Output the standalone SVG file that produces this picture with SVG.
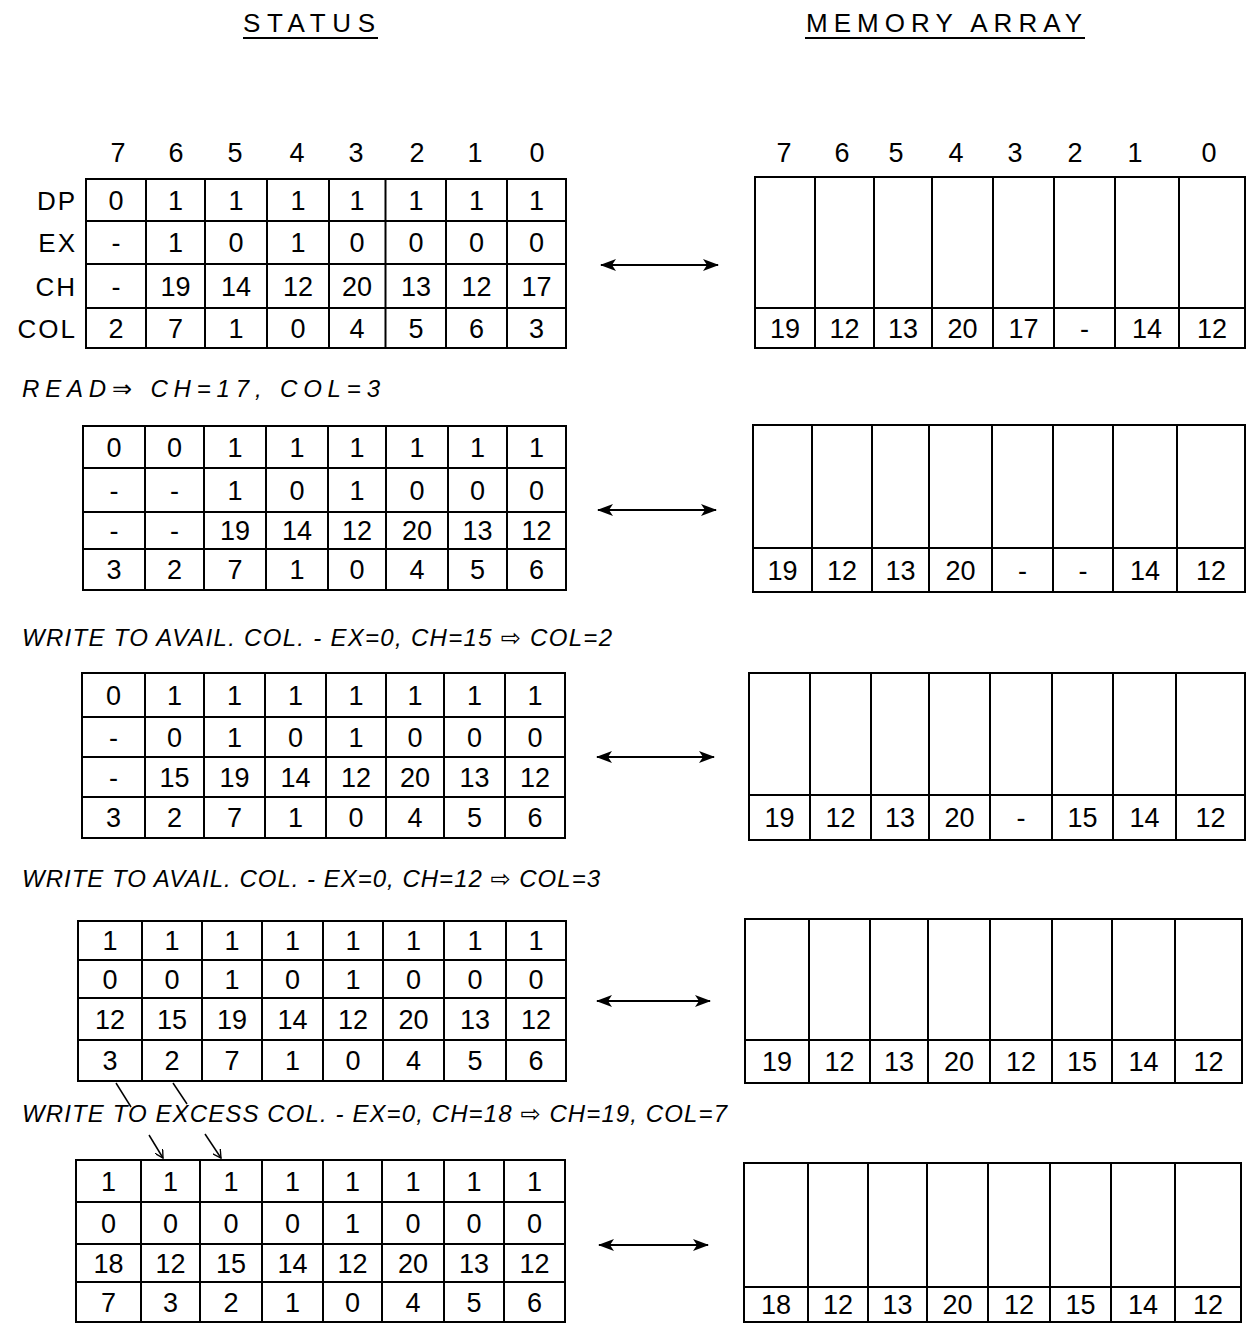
<svg xmlns="http://www.w3.org/2000/svg" width="1249" height="1324" viewBox="0 0 1249 1324">
<style>
  .bg{fill:#fff}
  .g{fill:none;stroke:#000;stroke-width:2}
  .c{font-family:"Liberation Sans","DejaVu Sans",sans-serif;font-size:27px;text-anchor:middle;fill:#000}
  .h{font-family:"Liberation Sans","DejaVu Sans",sans-serif;font-size:27px;text-anchor:middle;fill:#000}
  .lb{font-family:"Liberation Sans","DejaVu Sans",sans-serif;font-size:26px;text-anchor:end;fill:#000;letter-spacing:2px}
  .t{font-family:"Liberation Sans","DejaVu Sans",sans-serif;font-size:26px;fill:#000;letter-spacing:2px}
  .a{font-family:"Liberation Sans","DejaVu Sans",sans-serif;font-size:24px;font-style:italic;fill:#000}
  .cn{fill:none;stroke:#000;stroke-width:2}
  .sm{fill:none;stroke:#000;stroke-width:1.5}
</style>
<defs>
  <marker id="ah" viewBox="0 0 16 12" refX="15" refY="6" markerWidth="16" markerHeight="12" markerUnits="userSpaceOnUse" orient="auto-start-reverse">
    <path d="M0,0 L16,6 L0,12 L4,6 Z" fill="#000"/>
  </marker>
  <marker id="oh" viewBox="0 0 10 10" refX="9" refY="5" markerWidth="9" markerHeight="9" markerUnits="userSpaceOnUse" orient="auto">
    <path d="M0,0 L9,5 L0,10" fill="none" stroke="#000" stroke-width="1.5"/>
  </marker>
</defs>
<rect class="bg" x="0" y="0" width="1249" height="1324"/>

<g id="titles">
  <text class="t" x="243" y="32" textLength="134">STATUS</text>
  <line class="g" x1="243" y1="38" x2="378" y2="38"/>
  <text class="t" x="806" y="32" textLength="278">MEMORY ARRAY</text>
  <line class="g" x1="805" y1="38" x2="1085" y2="38"/>
</g>

<g id="status-headers">
  <text class="h" x="118" y="162">7</text><text class="h" x="176" y="162">6</text><text class="h" x="235" y="162">5</text><text class="h" x="297" y="162">4</text>
  <text class="h" x="356" y="162">3</text><text class="h" x="417" y="162">2</text><text class="h" x="475" y="162">1</text><text class="h" x="537" y="162">0</text>
</g>
<g id="row-labels">
  <text class="lb" x="77" y="210">DP</text>
  <text class="lb" x="77" y="252">EX</text>
  <text class="lb" x="77" y="296">CH</text>
  <text class="lb" x="77" y="338">COL</text>
</g>
<g id="memory-headers">
  <text class="h" x="784" y="162">7</text><text class="h" x="842" y="162">6</text><text class="h" x="896" y="162">5</text><text class="h" x="956" y="162">4</text>
  <text class="h" x="1015" y="162">3</text><text class="h" x="1075" y="162">2</text><text class="h" x="1135" y="162">1</text><text class="h" x="1209" y="162">0</text>
</g>

<g id="status1">
  <rect class="g" x="86" y="179" width="480" height="169"/>
  <path class="g" d="M86,221H566M86,264H566M86,308H566M146,179V348M205,179V348M267,179V348M329,179V348M385.5,179V348M446,179V348M507,179V348"/>
  <text class="c" x="116" y="210">0</text><text class="c" x="175.5" y="210">1</text><text class="c" x="236" y="210">1</text><text class="c" x="298" y="210">1</text><text class="c" x="357" y="210">1</text><text class="c" x="416" y="210">1</text><text class="c" x="476.5" y="210">1</text><text class="c" x="536.5" y="210">1</text>
  <text class="c" x="116" y="252">-</text><text class="c" x="175.5" y="252">1</text><text class="c" x="236" y="252">0</text><text class="c" x="298" y="252">1</text><text class="c" x="357" y="252">0</text><text class="c" x="416" y="252">0</text><text class="c" x="476.5" y="252">0</text><text class="c" x="536.5" y="252">0</text>
  <text class="c" x="116" y="296">-</text><text class="c" x="175.5" y="296">19</text><text class="c" x="236" y="296">14</text><text class="c" x="298" y="296">12</text><text class="c" x="357" y="296">20</text><text class="c" x="416" y="296">13</text><text class="c" x="476.5" y="296">12</text><text class="c" x="536.5" y="296">17</text>
  <text class="c" x="116" y="338">2</text><text class="c" x="175.5" y="338">7</text><text class="c" x="236" y="338">1</text><text class="c" x="298" y="338">0</text><text class="c" x="357" y="338">4</text><text class="c" x="416" y="338">5</text><text class="c" x="476.5" y="338">6</text><text class="c" x="536.5" y="338">3</text>
</g>

<g id="memory1">
  <rect class="g" x="755" y="177" width="490" height="171"/>
  <path class="g" d="M755,308H1245M815,177V348M874,177V348M932,177V348M993,177V348M1054,177V348M1115,177V348M1179,177V348"/>
  <text class="c" x="785" y="338">19</text><text class="c" x="844.5" y="338">12</text><text class="c" x="903" y="338">13</text><text class="c" x="962.5" y="338">20</text><text class="c" x="1023.5" y="338">17</text><text class="c" x="1084.5" y="338">-</text><text class="c" x="1147" y="338">14</text><text class="c" x="1212" y="338">12</text>
</g>

<g id="note1">
  <text class="a" x="22" y="397" textLength="358" lengthAdjust="spacing">READ⇒ CH=17,  COL=3</text>
</g>

<g id="status2">
  <rect class="g" x="83" y="426" width="483" height="164"/>
  <path class="g" d="M83,468H566M83,512H566M83,549H566M145,426V590M204,426V590M266,426V590M328,426V590M386,426V590M448,426V590M507,426V590"/>
  <text class="c" x="114" y="457">0</text><text class="c" x="174.5" y="457">0</text><text class="c" x="235" y="457">1</text><text class="c" x="297" y="457">1</text><text class="c" x="357" y="457">1</text><text class="c" x="417" y="457">1</text><text class="c" x="477.5" y="457">1</text><text class="c" x="536.5" y="457">1</text>
  <text class="c" x="114" y="500">-</text><text class="c" x="174.5" y="500">-</text><text class="c" x="235" y="500">1</text><text class="c" x="297" y="500">0</text><text class="c" x="357" y="500">1</text><text class="c" x="417" y="500">0</text><text class="c" x="477.5" y="500">0</text><text class="c" x="536.5" y="500">0</text>
  <text class="c" x="114" y="540">-</text><text class="c" x="174.5" y="540">-</text><text class="c" x="235" y="540">19</text><text class="c" x="297" y="540">14</text><text class="c" x="357" y="540">12</text><text class="c" x="417" y="540">20</text><text class="c" x="477.5" y="540">13</text><text class="c" x="536.5" y="540">12</text>
  <text class="c" x="114" y="579">3</text><text class="c" x="174.5" y="579">2</text><text class="c" x="235" y="579">7</text><text class="c" x="297" y="579">1</text><text class="c" x="357" y="579">0</text><text class="c" x="417" y="579">4</text><text class="c" x="477.5" y="579">5</text><text class="c" x="536.5" y="579">6</text>
</g>

<g id="memory2">
  <rect class="g" x="753" y="425" width="492" height="167"/>
  <path class="g" d="M753,548H1245M812,425V592M872,425V592M929,425V592M992,425V592M1053,425V592M1113,425V592M1177,425V592"/>
  <text class="c" x="782.5" y="580">19</text><text class="c" x="842" y="580">12</text><text class="c" x="900.5" y="580">13</text><text class="c" x="960.5" y="580">20</text><text class="c" x="1022.5" y="580">-</text><text class="c" x="1083" y="580">-</text><text class="c" x="1145" y="580">14</text><text class="c" x="1211" y="580">12</text>
</g>

<g id="note2">
  <text class="a" x="22" y="646" textLength="590" lengthAdjust="spacing">WRITE TO AVAIL. COL. - EX=0, CH=15 ⇨ COL=2</text>
</g>

<g id="status3">
  <rect class="g" x="82" y="673" width="483" height="165"/>
  <path class="g" d="M82,717H565M82,757H565M82,797H565M145,673V838M204,673V838M265,673V838M326,673V838M386,673V838M444,673V838M505,673V838"/>
  <text class="c" x="113.5" y="705">0</text><text class="c" x="174.5" y="705">1</text><text class="c" x="234.5" y="705">1</text><text class="c" x="295.5" y="705">1</text><text class="c" x="356" y="705">1</text><text class="c" x="415" y="705">1</text><text class="c" x="474.5" y="705">1</text><text class="c" x="535" y="705">1</text>
  <text class="c" x="113.5" y="747">-</text><text class="c" x="174.5" y="747">0</text><text class="c" x="234.5" y="747">1</text><text class="c" x="295.5" y="747">0</text><text class="c" x="356" y="747">1</text><text class="c" x="415" y="747">0</text><text class="c" x="474.5" y="747">0</text><text class="c" x="535" y="747">0</text>
  <text class="c" x="113.5" y="787">-</text><text class="c" x="174.5" y="787">15</text><text class="c" x="234.5" y="787">19</text><text class="c" x="295.5" y="787">14</text><text class="c" x="356" y="787">12</text><text class="c" x="415" y="787">20</text><text class="c" x="474.5" y="787">13</text><text class="c" x="535" y="787">12</text>
  <text class="c" x="113.5" y="827">3</text><text class="c" x="174.5" y="827">2</text><text class="c" x="234.5" y="827">7</text><text class="c" x="295.5" y="827">1</text><text class="c" x="356" y="827">0</text><text class="c" x="415" y="827">4</text><text class="c" x="474.5" y="827">5</text><text class="c" x="535" y="827">6</text>
</g>

<g id="memory3">
  <rect class="g" x="749" y="673" width="496" height="167"/>
  <path class="g" d="M749,795H1245M810,673V840M871,673V840M929,673V840M990,673V840M1052,673V840M1113,673V840M1176,673V840"/>
  <text class="c" x="779.5" y="827">19</text><text class="c" x="840.5" y="827">12</text><text class="c" x="900" y="827">13</text><text class="c" x="959.5" y="827">20</text><text class="c" x="1021" y="827">-</text><text class="c" x="1082.5" y="827">15</text><text class="c" x="1144.5" y="827">14</text><text class="c" x="1210.5" y="827">12</text>
</g>

<g id="note3">
  <text class="a" x="22" y="887" textLength="578" lengthAdjust="spacing">WRITE TO AVAIL. COL. - EX=0, CH=12 ⇨ COL=3</text>
</g>

<g id="status4">
  <rect class="g" x="78" y="921" width="488" height="160"/>
  <path class="g" d="M78,960H566M78,998H566M78,1040H566M142,921V1081M202,921V1081M262,921V1081M323,921V1081M383,921V1081M444,921V1081M506,921V1081"/>
  <text class="c" x="110" y="950">1</text><text class="c" x="172" y="950">1</text><text class="c" x="232" y="950">1</text><text class="c" x="292.5" y="950">1</text><text class="c" x="353" y="950">1</text><text class="c" x="413.5" y="950">1</text><text class="c" x="475" y="950">1</text><text class="c" x="536" y="950">1</text>
  <text class="c" x="110" y="989">0</text><text class="c" x="172" y="989">0</text><text class="c" x="232" y="989">1</text><text class="c" x="292.5" y="989">0</text><text class="c" x="353" y="989">1</text><text class="c" x="413.5" y="989">0</text><text class="c" x="475" y="989">0</text><text class="c" x="536" y="989">0</text>
  <text class="c" x="110" y="1029">12</text><text class="c" x="172" y="1029">15</text><text class="c" x="232" y="1029">19</text><text class="c" x="292.5" y="1029">14</text><text class="c" x="353" y="1029">12</text><text class="c" x="413.5" y="1029">20</text><text class="c" x="475" y="1029">13</text><text class="c" x="536" y="1029">12</text>
  <text class="c" x="110" y="1070">3</text><text class="c" x="172" y="1070">2</text><text class="c" x="232" y="1070">7</text><text class="c" x="292.5" y="1070">1</text><text class="c" x="353" y="1070">0</text><text class="c" x="413.5" y="1070">4</text><text class="c" x="475" y="1070">5</text><text class="c" x="536" y="1070">6</text>
</g>

<g id="memory4">
  <rect class="g" x="745" y="919" width="497" height="164"/>
  <path class="g" d="M745,1040H1242M809,919V1083M870,919V1083M928,919V1083M990,919V1083M1052,919V1083M1112,919V1083M1175,919V1083"/>
  <text class="c" x="777" y="1071">19</text><text class="c" x="839.5" y="1071">12</text><text class="c" x="899" y="1071">13</text><text class="c" x="959" y="1071">20</text><text class="c" x="1021" y="1071">12</text><text class="c" x="1082" y="1071">15</text><text class="c" x="1143.5" y="1071">14</text><text class="c" x="1208.5" y="1071">12</text>
</g>

<g id="note4">
  <text class="a" x="22" y="1122" textLength="705" lengthAdjust="spacing">WRITE TO EXCESS COL. - EX=0, CH=18 ⇨ CH=19, COL=7</text>
</g>

<g id="status5">
  <rect class="g" x="76" y="1160" width="489" height="162"/>
  <path class="g" d="M76,1202H565M76,1244H565M76,1282H565M141,1160V1322M200,1160V1322M262,1160V1322M323,1160V1322M382,1160V1322M444,1160V1322M504,1160V1322"/>
  <text class="c" x="108.5" y="1191">1</text><text class="c" x="170.5" y="1191">1</text><text class="c" x="231" y="1191">1</text><text class="c" x="292.5" y="1191">1</text><text class="c" x="352.5" y="1191">1</text><text class="c" x="413" y="1191">1</text><text class="c" x="474" y="1191">1</text><text class="c" x="534.5" y="1191">1</text>
  <text class="c" x="108.5" y="1233">0</text><text class="c" x="170.5" y="1233">0</text><text class="c" x="231" y="1233">0</text><text class="c" x="292.5" y="1233">0</text><text class="c" x="352.5" y="1233">1</text><text class="c" x="413" y="1233">0</text><text class="c" x="474" y="1233">0</text><text class="c" x="534.5" y="1233">0</text>
  <text class="c" x="108.5" y="1273">18</text><text class="c" x="170.5" y="1273">12</text><text class="c" x="231" y="1273">15</text><text class="c" x="292.5" y="1273">14</text><text class="c" x="352.5" y="1273">12</text><text class="c" x="413" y="1273">20</text><text class="c" x="474" y="1273">13</text><text class="c" x="534.5" y="1273">12</text>
  <text class="c" x="108.5" y="1312">7</text><text class="c" x="170.5" y="1312">3</text><text class="c" x="231" y="1312">2</text><text class="c" x="292.5" y="1312">1</text><text class="c" x="352.5" y="1312">0</text><text class="c" x="413" y="1312">4</text><text class="c" x="474" y="1312">5</text><text class="c" x="534.5" y="1312">6</text>
</g>

<g id="memory5">
  <rect class="g" x="744" y="1163" width="497" height="159"/>
  <path class="g" d="M744,1287H1241M808,1163V1322M868,1163V1322M927,1163V1322M988,1163V1322M1050,1163V1322M1111,1163V1322M1175,1163V1322"/>
  <text class="c" x="776" y="1314">18</text><text class="c" x="838" y="1314">12</text><text class="c" x="897.5" y="1314">13</text><text class="c" x="957.5" y="1314">20</text><text class="c" x="1019" y="1314">12</text><text class="c" x="1080.5" y="1314">15</text><text class="c" x="1143" y="1314">14</text><text class="c" x="1208" y="1314">12</text>
</g>

<g id="connectors">
  <line class="cn" x1="601" y1="265" x2="718" y2="265" marker-start="url(#ah)" marker-end="url(#ah)"/>
  <line class="cn" x1="598" y1="510" x2="716" y2="510" marker-start="url(#ah)" marker-end="url(#ah)"/>
  <line class="cn" x1="597" y1="757" x2="714" y2="757" marker-start="url(#ah)" marker-end="url(#ah)"/>
  <line class="cn" x1="597" y1="1001" x2="710" y2="1001" marker-start="url(#ah)" marker-end="url(#ah)"/>
  <line class="cn" x1="599" y1="1245" x2="708" y2="1245" marker-start="url(#ah)" marker-end="url(#ah)"/>
  <line class="sm" x1="116" y1="1083" x2="131" y2="1107"/>
  <line class="sm" x1="173" y1="1083" x2="187" y2="1104"/>
  <line class="sm" x1="149" y1="1135" x2="163" y2="1158" marker-end="url(#oh)"/>
  <line class="sm" x1="205" y1="1134" x2="221" y2="1158" marker-end="url(#oh)"/>
</g>
</svg>
